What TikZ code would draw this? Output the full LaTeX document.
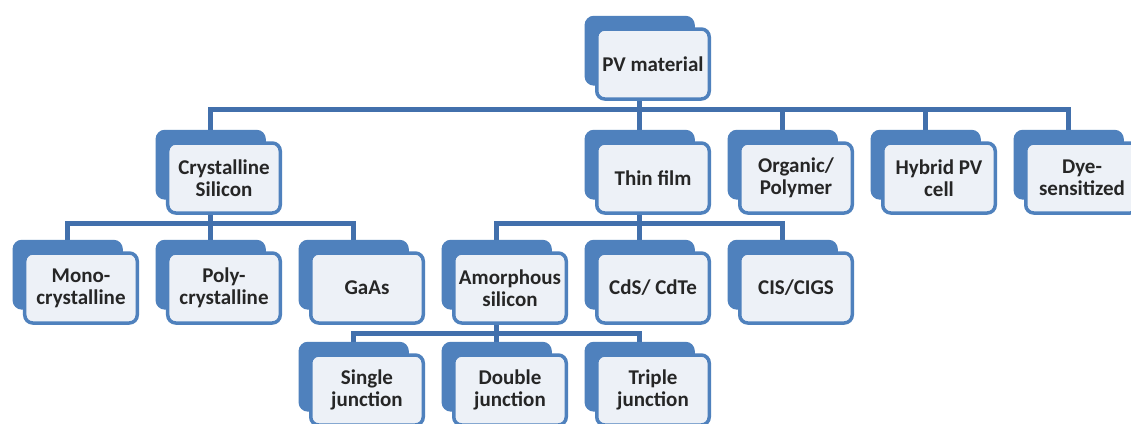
\documentclass[tikz,border=0pt]{standalone}
\usepackage{fontspec}
\setmainfont{Carlito}
\usetikzlibrary{shadows,graphs,backgrounds}
\definecolor{pvblue}{RGB}{79,129,189}
\definecolor{pvline}{RGB}{66,112,172}
\definecolor{pvfill}{RGB}{237,241,247}
\definecolor{pvtext}{RGB}{38,38,38}
\tikzset{
    ampersand replacement=\&,
    card/.style={draw=pvblue, fill=pvfill, line width=3.5pt, rounded corners=8pt,
        minimum width=112.5pt, minimum height=70pt, align=center, text=pvtext,
        font=\bfseries\fontsize{21}{22}\selectfont,
        general shadow={shadow scale=0.95, shadow xshift=-14pt, shadow yshift=14pt,
            fill=pvblue, draw=pvblue}},
    bus/.style={draw=pvline, line width=5pt,
        to path={([xshift=-14pt]\tikztostart.south) -- ++(0,9) -| ([xshift=-14pt]\tikztotarget.north)}},
}
\begin{document}
\begin{tikzpicture}[x=1pt, y=-1pt]
    \useasboundingbox (0,0) rectangle (1131,423);

    \matrix (tree) [column sep=27pt, row sep=36.5pt, matrix anchor=pv.center] at (653,64) {
        \& \& \& \& \node[card] (pv) {PV material}; \& \& \& \\[4pt]
        \& \node[card] (cs) {Crystalline\\Silicon}; \& \& \&
        \node[card] (tf) {Thin film}; \&
        \node[card] (op) {Organic/\\Polymer}; \&
        \node[card] (hy) {Hybrid PV\\cell}; \&
        \node[card] (dy) {Dye-\\sensitized}; \\
        \node[card] (mono) {Mono-\\crystalline}; \&
        \node[card] (poly) {Poly-\\crystalline}; \&
        \node[card] (gaas) {GaAs}; \&
        \node[card] (amor) {Amorphous\\silicon}; \&
        \node[card] (cds) {CdS/ CdTe}; \&
        \node[card] (cis) {CIS/CIGS}; \& \& \\[-8pt]
        \& \& \node[card] (sj) {Single\\junction}; \&
        \node[card] (dj) {Double\\junction}; \&
        \node[card] (tj) {Triple\\junction}; \& \& \& \\
    } ;

    \begin{scope}[on background layer]
        \fill[white] (0,0) rectangle (1131,423);
        \graph[use existing nodes, edges=bus] {
            pv -- {cs, tf, op, hy, dy};
            cs -- {mono, poly, gaas};
            tf -- {amor, cds, cis};
            amor -- {sj, dj, tj};
        } ;
    \end{scope}
\end{tikzpicture}
\end{document}
